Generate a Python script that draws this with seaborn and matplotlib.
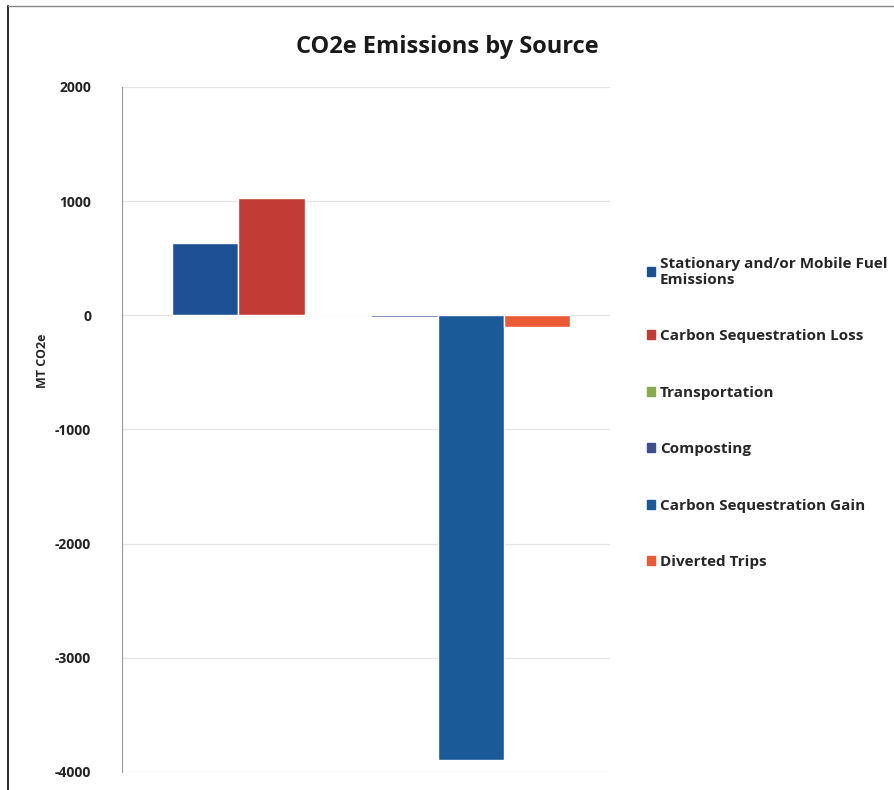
import pandas as pd
import matplotlib.pyplot as plt
import seaborn as sns
from matplotlib.patches import Rectangle

# series (one bar each, laid out side by side like the Excel clusters)
sources = ["Stationary and/or Mobile Fuel\nEmissions", "Carbon Sequestration Loss",
           "Transportation", "Composting", "Carbon Sequestration Gain", "Diverted Trips"]
emissions = [635, 1025, 0, -20, -3900, -105]
colors = ["#1d5196", "#c23b35", "#8aab4a", "#3d4f8f", "#1b5a99", "#ea5a34"]
yticks = [-4000, -3000, -2000, -1000, 0, 1000, 2000]

df = pd.DataFrame({"Source": sources, "MT CO2e": emissions})

sns.set_style("white")
plt.rcParams["font.family"] = ["Open Sans", "DejaVu Sans"]

fig = plt.figure(figsize=(8.95, 7.9), dpi=100)
ax = fig.add_axes([0.136, 0.023, 0.546, 0.867])

sns.barplot(data=df, x="Source", y="MT CO2e", hue="Source", order=sources,
            hue_order=sources, palette=colors, width=1.0, dodge=False,
            legend=False, ax=ax, saturation=1)

ax.set_xlim(-1.25, 6.1)
ax.set_ylim(-4000, 2000)
ax.set_yticks(yticks)
ax.set_yticklabels([str(t) for t in yticks], fontsize=10, fontweight="bold", color="#222222")
ax.set_xticks([])
ax.set_xlabel("")
ax.set_ylabel("MT CO2e", fontsize=9, fontweight="bold")
ax.yaxis.set_label_coords(-0.148, 0.6)
ax.yaxis.grid(True, color="#e4e4e4", linewidth=0.9)
ax.set_axisbelow(True)
ax.tick_params(axis="y", length=0, pad=22)
for s in ["top", "right", "bottom"]:
    ax.spines[s].set_visible(False)
ax.spines["left"].set_color("#9a9a9a")

fig.text(0.5, 0.941, "CO2e Emissions by Source", ha="center", va="center",
         fontsize=17, fontweight="bold", color="#1a1a1a")

# legend
handles = [Rectangle((0, 0), 1, 1, color=c) for c in colors]
fig.legend(handles, sources, loc="upper left", bbox_to_anchor=(0.716, 0.683),
           frameon=False, prop={"weight": "bold", "size": 11},
           handlelength=0.55, handleheight=0.55, handletextpad=0.3,
           labelspacing=2.78, borderaxespad=0)

# scanned border
fig.add_artist(plt.Line2D([0.009, 0.009], [0.0, 0.992], color="#333333", lw=1.5,
                          transform=fig.transFigure))
fig.add_artist(plt.Line2D([0.009, 1.0], [0.992, 0.992], color="#888888", lw=1.0,
                          transform=fig.transFigure))

fig.savefig("out.png", dpi=100)
